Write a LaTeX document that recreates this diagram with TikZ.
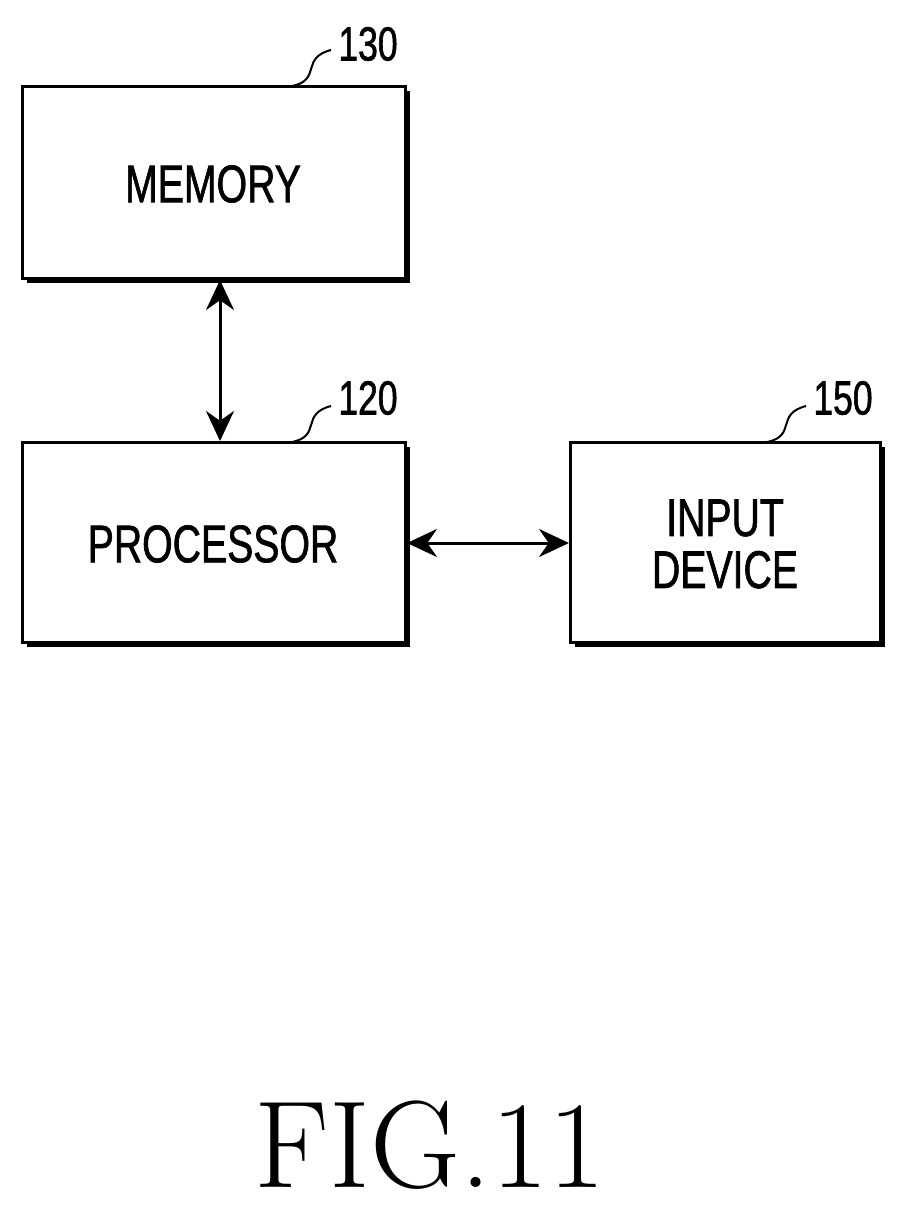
\documentclass[tikz,border=0pt]{standalone}
\usepackage{fontspec}
\setmainfont{Liberation Sans}[FakeStretch=0.74,FakeBold=1.2]
\newfontfamily\figfont{Latin Modern Roman}
\usetikzlibrary{arrows.meta}
\begin{document}
\begin{tikzpicture}[x=1pt,y=-1pt,
  box/.style={draw,line width=3pt,fill=white,
    preaction={fill=black,transform canvas={xshift=5pt,yshift=-5pt}}},
  lbl/.style={font=\fontsize{48}{50}\selectfont},
  txt/.style={font=\fontsize{53}{58}\selectfont,align=center},
  arr/.style={line width=3pt,{Stealth[length=30pt,width=28pt]}-{Stealth[length=30pt,width=28pt]}},
  lead/.style={line width=2pt}]
\useasboundingbox (0,0) rectangle (909,1207);
\path[box] (22,86) rectangle (405,278);
\path[box] (22,442) rectangle (405,642);
\path[box] (570,442) rectangle (880,642);
\node[txt] (mem) at (213,184) {MEMORY};
\node[txt] (proc) at (213,544) {PROCESSOR};
\node[txt] (inp) at (725,544) {INPUT\\[-6pt]DEVICE};
\coordinate (mb) at (220,280);
\coordinate (pt) at (220,441);
\coordinate (pr) at (407,543);
\coordinate (il) at (569,543);
\draw[arr] (mb) -- (pt);
\draw[arr] (pr) -- (il);
\node[lbl] (l130) at (368,44) {130};
\node[lbl] (l120) at (368,398) {120};
\node[lbl] (l150) at (843,398) {150};
\draw[lead] (292,86) .. controls (322,80) and (300,58) .. (331,50);
\draw[lead] (292,442) .. controls (322,436) and (300,414) .. (331,406);
\draw[lead] (767,442) .. controls (797,436) and (775,414) .. (806,406);
\node[font=\figfont\fontsize{124}{126}\selectfont] (fig) at (430,1145) {FIG.11};
\end{tikzpicture}
\end{document}
